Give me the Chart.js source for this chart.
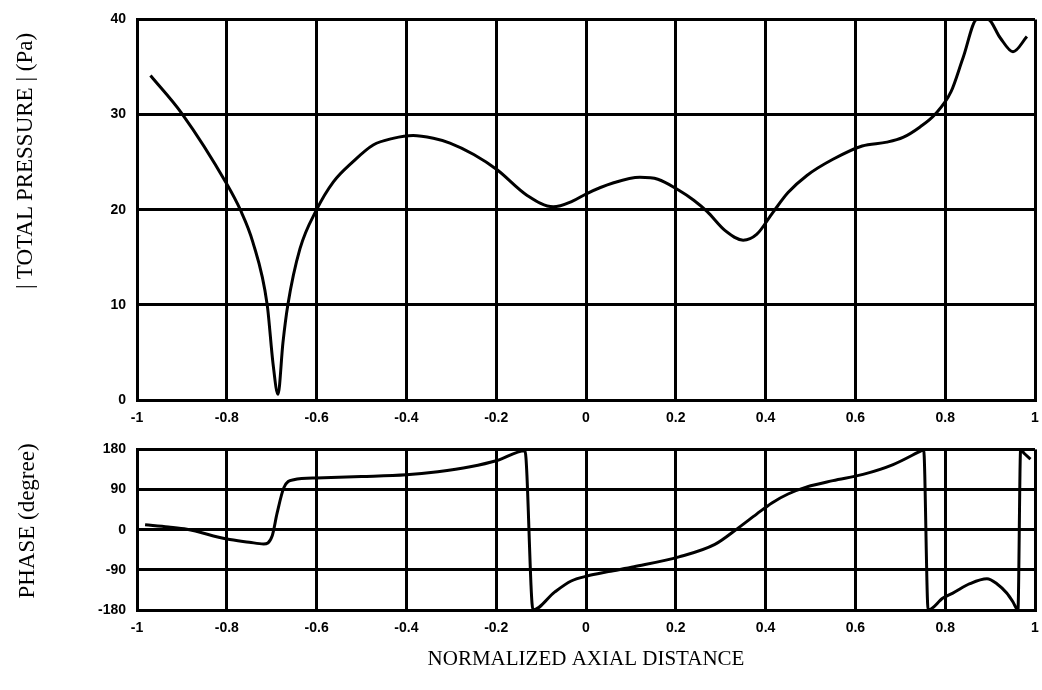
<!DOCTYPE html>
<html>
<head>
<meta charset="utf-8">
<script src="https://cdn.jsdelivr.net/npm/chart.js@4.4.1/dist/chart.umd.min.js"></script>
<style>
  html, body { margin:0; padding:0; background:#fff; }
  #wrap { position:relative; width:1042px; height:690px; overflow:hidden; }
  .box { position:absolute; left:0; width:1042px; }
  #topBox { top:0; height:430px; }
  #botBox { top:430px; height:260px; }
  .ytitle { position:absolute; transform:translate(-50%,-50%) rotate(-90deg);
            white-space:nowrap; font:23px "Liberation Serif", "DejaVu Serif", serif; color:#000; }
</style>
</head>
<body>
<div id="wrap">
  <div class="box" id="topBox"><canvas id="pressure"></canvas></div>
  <div class="box" id="botBox"><canvas id="phase"></canvas></div>
  <div class="ytitle" style="left:25px; top:161px;">| TOTAL PRESSURE | (Pa)</div>
  <div class="ytitle" style="left:27px; top:521px;">PHASE (degree)</div>
</div>
<script>
// axis ticks
const xTicks = [-1, -0.8, -0.6, -0.4, -0.2, 0, 0.2, 0.4, 0.6, 0.8, 1];
const pressureTicks = [0, 10, 20, 30, 40];
const phaseTicks = [-180, -90, 0, 90, 180];

// |total pressure| (Pa) vs normalized axial distance
const pressureX = [-0.97, -0.9, -0.8, -0.77, -0.742, -0.71, -0.697, -0.686, -0.675, -0.664, -0.637, -0.6,
  -0.563, -0.52, -0.474, -0.43, -0.385, -0.34, -0.303, -0.25, -0.198, -0.131, -0.073, -0.03, 0.002, 0.06,
  0.12, 0.16, 0.205, 0.24, 0.27, 0.31, 0.35, 0.38, 0.416, 0.45, 0.492, 0.55, 0.615, 0.67, 0.706, 0.744, 0.777,
  0.813, 0.84, 0.871, 0.895, 0.922, 0.951, 0.982];
const pressureVal = [34.1, 30.1, 22.7, 20, 16.6, 10, 3.8, 0.6, 6, 10, 15.9, 20,
  22.9, 25.0, 26.8, 27.5, 27.8, 27.5, 27, 25.8, 24.2, 21.5, 20.3, 20.9, 21.7, 22.8,
  23.4, 23.2, 22.1, 21.0, 19.8, 17.8, 16.8, 17.4, 19.7, 21.8, 23.6, 25.3, 26.7, 27.1, 27.6, 28.7, 30,
  32.4, 36, 40, 40, 38.1, 36.6, 38.2];

// phase (degree), wraps at +/-180 drawn as near-vertical jumps
const phaseX = [-0.982, -0.93, -0.889, -0.8, -0.75, -0.718, -0.699, -0.688, -0.673, -0.651, -0.6, -0.5,
  -0.4, -0.33, -0.258, -0.198, -0.136, -0.118, -0.07, -0.033, 0.002, 0.05, 0.107, 0.207, 0.287, 0.338,
  0.38, 0.414, 0.45, 0.492, 0.55, 0.617, 0.684, 0.748, 0.752, 0.762, 0.795, 0.817, 0.855, 0.893, 0.915,
  0.937, 0.951, 0.962, 0.968, 0.975, 0.99];
const phaseVal = [11, 6, 1, -21, -28, -32, -14, 37, 94, 112, 116, 119,
  123, 130, 141, 155, 177, -180, -140, -115, -104, -94, -83, -61, -33, 3,
  35, 60, 80, 96, 110, 124, 146, 178, 180, -180, -153, -142, -121, -110, -121,
  -142, -162, -180, 180, 172, 158];

const tickFont = { family: '"Liberation Sans", Arial, sans-serif', size: 14, weight: 'bold' };

function mk(canvas, xs, ys, yTicks, o) {
  const pts = xs.map((x, i) => ({ x: x, y: ys[i] }));
  return new Chart(canvas, {
    type: 'scatter',
    data: { datasets: [{ data: pts, showLine: true, borderColor: '#000', borderWidth: 3,
      pointRadius: 0, cubicInterpolationMode: 'monotone', clip: 0 }] },
    options: {
      animation: false, responsive: true, maintainAspectRatio: false,
      layout: { padding: { top: o.padTop, right: 7, left: 0, bottom: 0 } },
      plugins: { legend: { display: false }, tooltip: { enabled: false } },
      scales: {
        x: {
          type: 'linear', min: -1, max: 1,
          afterBuildTicks: s => { s.ticks = xTicks.map(v => ({ value: v })); },
          afterFit: s => { s.height = o.xHeight; s.paddingLeft = 0; s.paddingRight = 0; },
          ticks: { color: '#000', font: tickFont, padding: 10, maxRotation: 0, autoSkip: false,
                   callback: v => String(v) },
          grid: { color: '#000', lineWidth: 3, drawTicks: false },
          border: { color: '#000', width: 3 },
          title: o.xTitle ? { display: true, text: o.xTitle, color: '#000',
                   font: { family: '"Liberation Serif", "DejaVu Serif", serif', size: 21 },
                   padding: { top: 0, bottom: 18 } } : { display: false }
        },
        y: {
          type: 'linear', min: yTicks[0], max: yTicks[yTicks.length - 1],
          afterBuildTicks: s => { s.ticks = yTicks.map(v => ({ value: v })); },
          afterFit: s => { s.width = 137; },
          ticks: { color: '#000', font: tickFont, padding: 11, autoSkip: false },
          grid: { color: '#000', lineWidth: 3, drawTicks: false },
          border: { color: '#000', width: 3 }
        }
      }
    }
  });
}

mk(document.getElementById('pressure'), pressureX, pressureVal, pressureTicks,
   { padTop: 15, xHeight: 30 });
mk(document.getElementById('phase'), phaseX, phaseVal, phaseTicks,
   { padTop: 13, xHeight: 80, xTitle: 'NORMALIZED AXIAL DISTANCE' });
</script>
</body>
</html>
